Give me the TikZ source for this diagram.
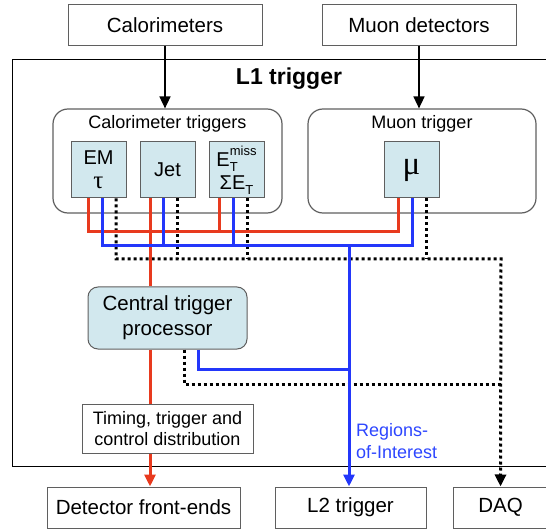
\documentclass[tikz,border=0pt]{standalone}
\usepackage{fontspec}
\setmainfont{Liberation Sans}
\newfontfamily\serifgr{Liberation Serif}
\usetikzlibrary{arrows.meta}
\definecolor{rd}{RGB}{232,58,30}
\definecolor{bl}{RGB}{35,55,250}
\definecolor{roi}{RGB}{45,70,255}
\definecolor{lb}{RGB}{210,232,238}
\definecolor{bd}{RGB}{95,95,95}
\newcommand\fA{\fontsize{20.5}{24}\selectfont}
\newcommand\fB{\fontsize{18}{21.5}\selectfont}
\newcommand\fC{\fontsize{20.5}{25}\selectfont}
\newcommand\fD{\fontsize{23}{26}\selectfont}
\newcommand\fS{\fontsize{13}{13}\selectfont}
\begin{document}
\begin{tikzpicture}[x=1pt,y=-1pt,
  box/.style={draw=bd, line width=1pt, fill=white, minimum height=41pt, font=\fA, inner sep=0pt},
  group/.style={draw=bd, line width=1.2pt, rounded corners=15pt},
  sub/.style={draw=bd, fill=lb, line width=1pt, minimum width=55pt, minimum height=56pt, inner sep=0pt, align=center, font=\fontsize{20}{24}\selectfont},
  redl/.style={rd, line width=3pt},
  bluel/.style={bl, line width=3pt},
  dotl/.style={black, line width=3pt, dash pattern=on 3pt off 3pt},
  arr/.style={-{Triangle[length=12pt,width=11pt]}},
  ]
\clip (0,0) rectangle (546,529);
% outer L1 box
\node[draw=black, line width=1.2pt, minimum width=536pt, minimum height=407pt, inner sep=0pt, anchor=north west] (l1) at (12,59) {};
\node[font=\fD\bfseries] (l1t) at (289,79) {L1 trigger};
% top boxes
\node[box, minimum width=194pt] (cal) at (165,25) {Calorimeters};
\node[box, minimum width=194pt] (muond) at (419,25) {Muon detectors};
% groups
\node[group, minimum width=229pt, minimum height=104pt] (calt) at (167.5,161) {};
\node[font=\fB] (caltt) at (167.5,124) {Calorimeter triggers};
\node[group, minimum width=228pt, minimum height=104pt] (mut) at (422,161) {};
\node[font=\fB] (mutt) at (422,124) {Muon trigger};
% sub boxes
\node[sub] (em) at (98.5,170) {EM\\[0pt]{\serifgr\fontsize{25}{25}\selectfont τ}};
\node[sub] (jet) at (167.5,170) {Jet};
\node[sub] (etm) at (236.5,170) {E\rlap{\raisebox{-0.45ex}{\fS T}}\raisebox{1.05ex}{\fS miss}\\[-1pt]ΣE\raisebox{-0.45ex}{\fS T}};
\node[sub] (mu) at (411.5,170) {{\serifgr\fontsize{33}{33}\selectfont μ}};
% central
\node[sub, rounded corners=10pt, minimum width=159pt, minimum height=62pt, font=\fC] (ctp) at (167.5,318) {Central trigger\\processor};
\node[box, minimum width=171pt, minimum height=49pt, font=\fB, align=center] (ttc) at (167.5,428.5) {Timing, trigger and\\control distribution};
% bottom boxes
\node[box, minimum width=193pt] (dfe) at (143.5,507.5) {Detector front-ends};
\node[box, minimum width=151pt] (l2) at (350.5,507.5) {L2 trigger};
\node[box, minimum width=95pt] (daq) at (500.5,507.5) {DAQ};
% input arrows
\draw[arr, line width=1.6pt] (cal.south) -- (cal.south |- calt.north);
\draw[arr, line width=1.6pt] (muond.south) -- (muond.south |- mut.north);
% junction coordinates
\coordinate (rL) at (88,232); \coordinate (rR) at (398,232);
\coordinate (bL) at (102,246); \coordinate (bR) at (412,246);
\coordinate (dL) at (116,259); \coordinate (dR) at (501,259);
\coordinate (bRoi) at (349,246);
% dotted
\draw[dotl, -{Triangle[length=12pt,width=11pt]}] ([xshift=17.5pt]em.south) -- (dL) -- (dR) -- (daq.north);
\draw[dotl] ([xshift=9.5pt]jet.south) -- (177,259);
\draw[dotl] ([xshift=10.5pt]etm.south) -- (247,259);
\draw[dotl] ([xshift=14.5pt]mu.south) -- (426,259);
\draw[dotl] ([xshift=16.5pt]ctp.south) |- (501,384);
% red
\draw[redl] ([xshift=-10.5pt]em.south) -- (rL) -- (rR) -- ([xshift=-13.5pt]mu.south);
\draw[redl] ([xshift=-17.5pt]etm.south) -- (219,232);
\draw[redl] ([xshift=-17.5pt]jet.south) -- ([xshift=-17.5pt]ctp.north);
\draw[redl] ([xshift=-17.5pt]ctp.south) -- ([xshift=-17.5pt]ttc.north);
\draw[redl, -{Triangle[length=12pt,width=11pt]}] ([xshift=-17.5pt]ttc.south) -- ([xshift=6.5pt]dfe.north);
% blue
\draw[bluel] ([xshift=3.5pt]em.south) -- (bL) -- (bR) -- ([xshift=0.5pt]mu.south);
\draw[bluel] ([xshift=-4.5pt]jet.south) -- (163,246);
\draw[bluel] ([xshift=-3.5pt]etm.south) -- (233,246);
\draw[bluel] ([xshift=30.5pt]ctp.south) |- (349,369);
\draw[bluel, -{Triangle[length=12pt,width=11pt]}] (bRoi) -- ([xshift=-1.5pt]l2.north);
\node[font=\fB, text=roi, align=left, anchor=west, inner sep=0pt] (roil) at (356,441) {Regions-\\of-Interest};
\end{tikzpicture}
\end{document}
